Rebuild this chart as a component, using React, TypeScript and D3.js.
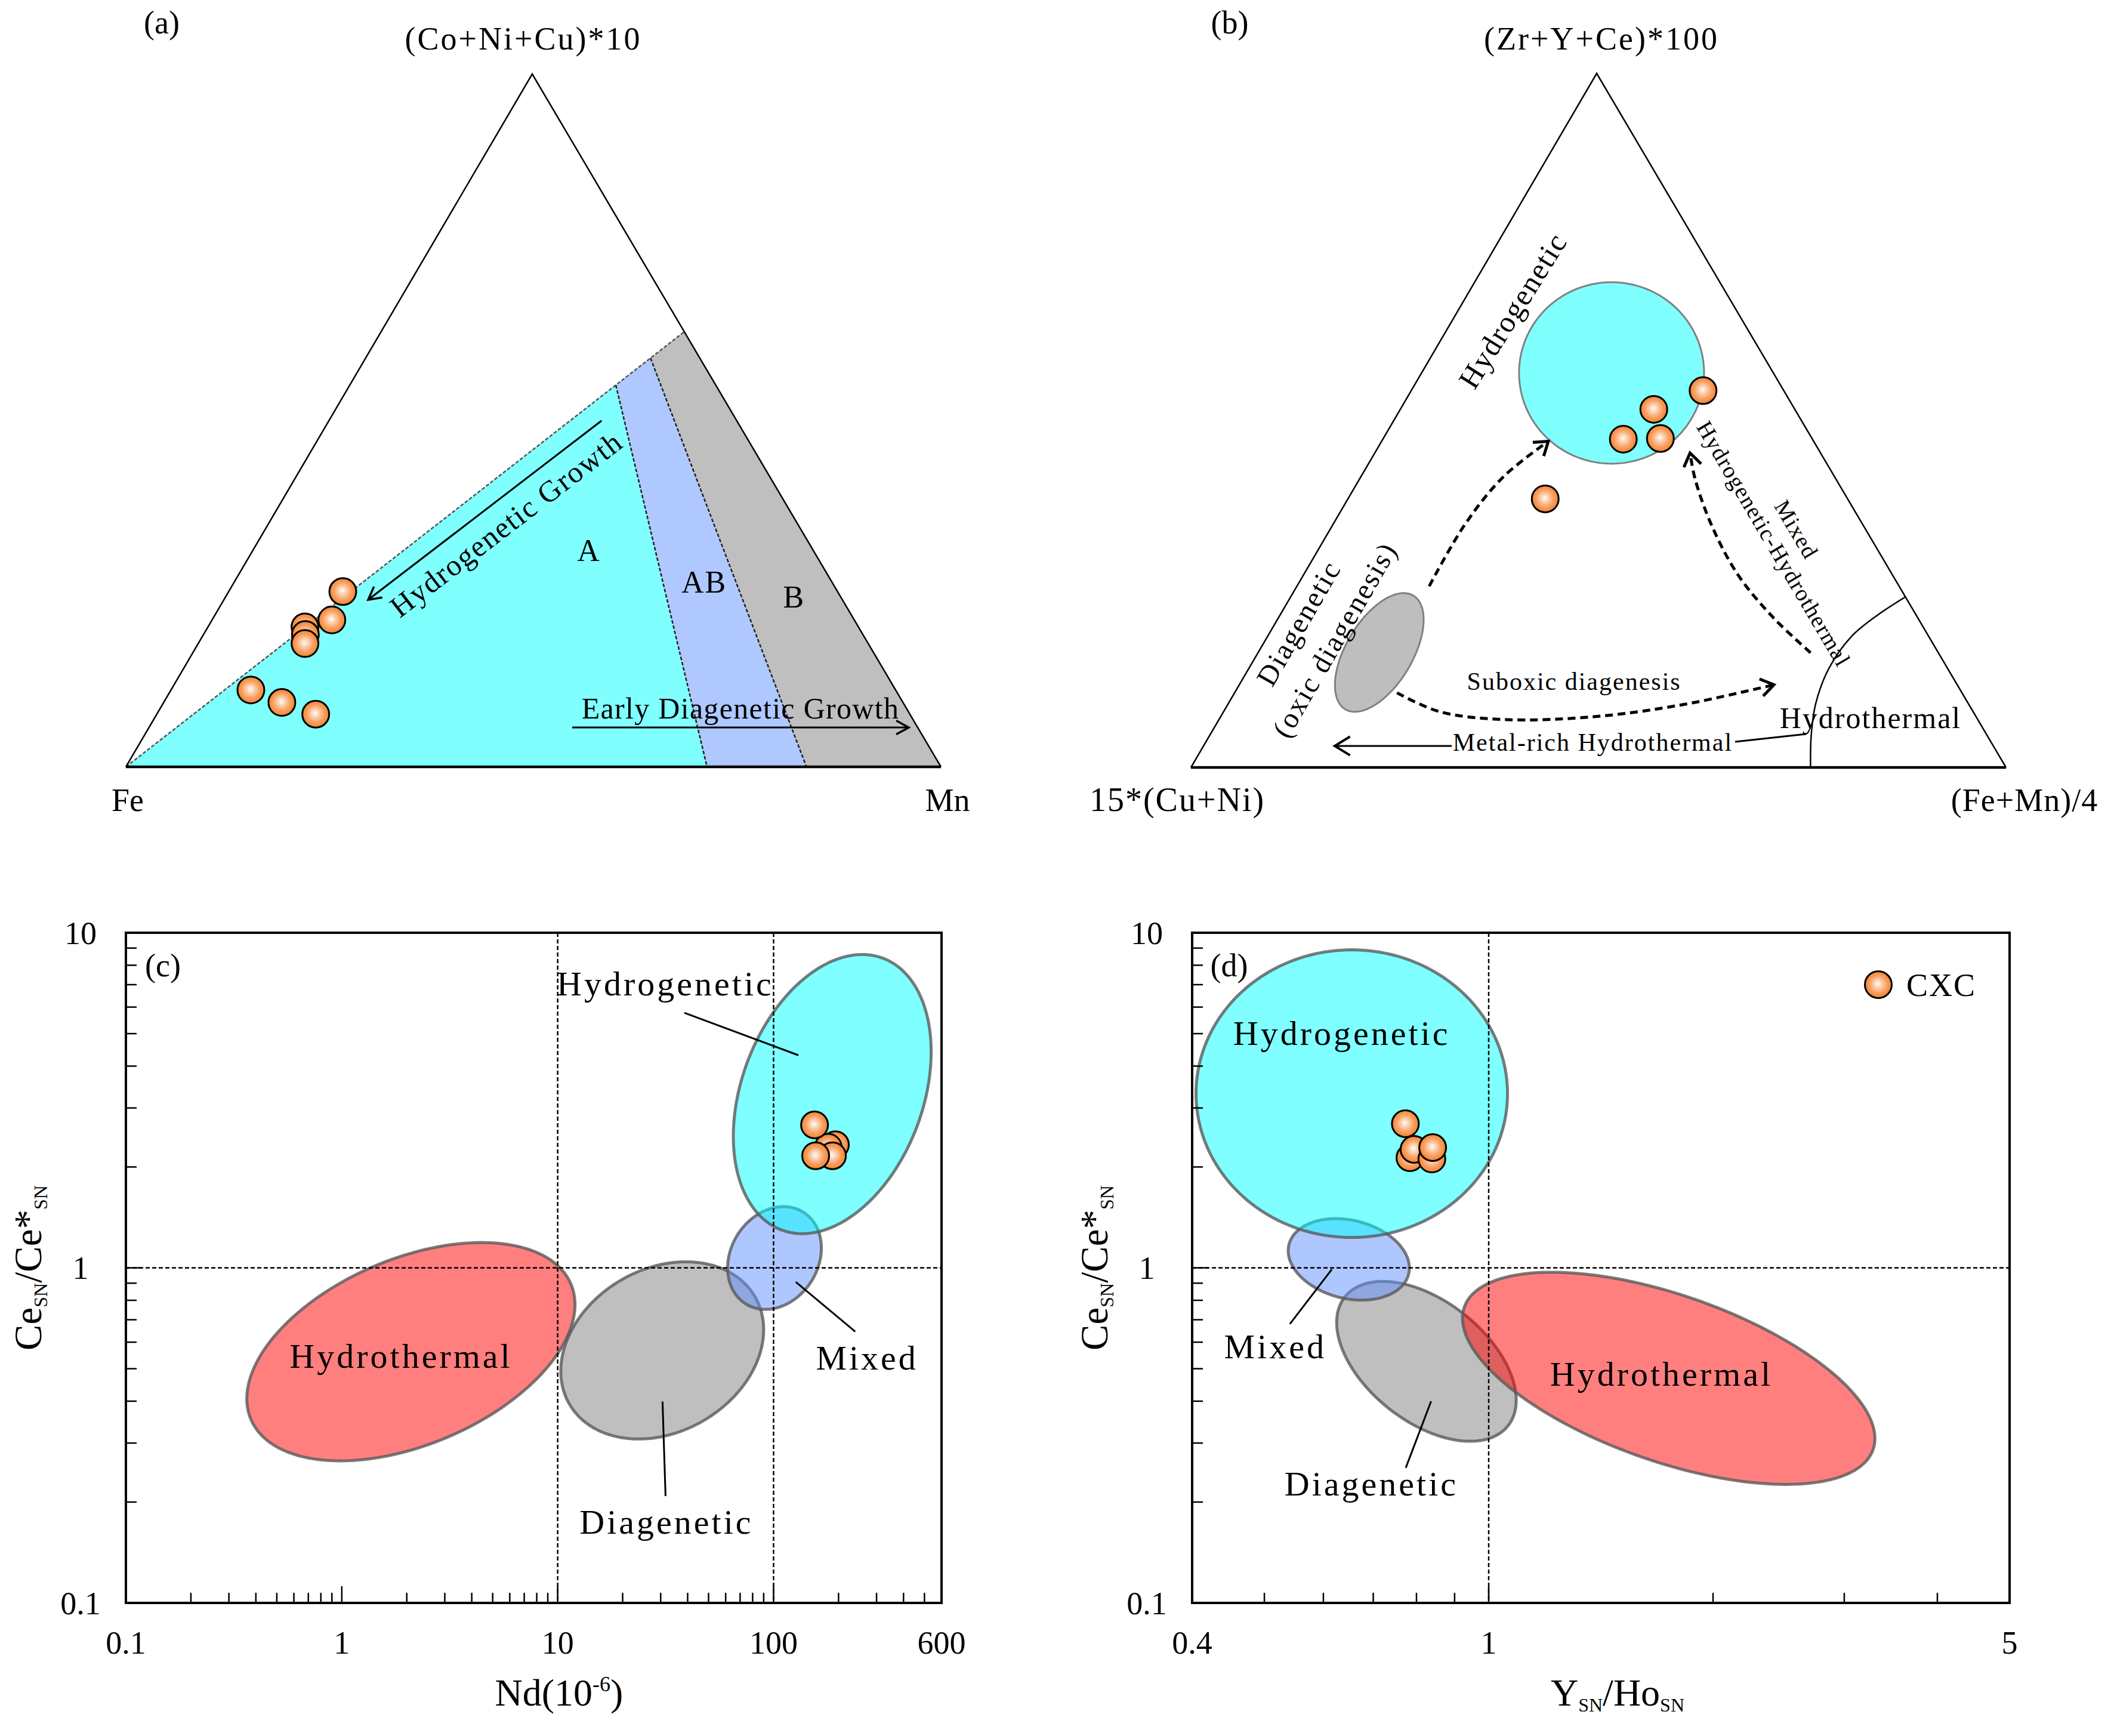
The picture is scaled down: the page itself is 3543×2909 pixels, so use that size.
import React from 'react';
import * as d3 from 'd3';

type Pt = [number, number];

const FONT = '"Liberation Serif", "Times New Roman", Times, serif';

// ================= (a) ternary: Fe – Mn – (Co+Ni+Cu)*10 (fractions) =================
const aFe = [0.607, 0.641, 0.679, 0.684, 0.691, 0.791, 0.762, 0.729];
const aMn = [0.14, 0.147, 0.119, 0.125, 0.131, 0.098, 0.145, 0.195];
const aCoNiCu = [0.253, 0.212, 0.202, 0.191, 0.178, 0.111, 0.093, 0.076];

// field vertices as [Mn, (Co+Ni+Cu)*10]; Fe is the remainder
const aFieldA: Pt[] = [[0, 0], [0.3264, 0.551], [0.713, 0]];
const aFieldAB: Pt[] = [[0.3264, 0.551], [0.3495, 0.59], [0.835, 0], [0.713, 0]];
const aFieldB: Pt[] = [[0.3495, 0.59], [0.372, 0.628], [1, 0], [0.835, 0]];
const aUpperLimit: Pt[] = [[0, 0], [0.372, 0.628]];
const aLimitA_AB: Pt[] = [[0.3264, 0.551], [0.713, 0]];
const aLimitAB_B: Pt[] = [[0.3495, 0.59], [0.835, 0]];
const aHydroArrow: Pt[] = [[0.3345, 0.4996], [0.177, 0.2412]];
const aDiagArrow: Pt[] = [[0.5193, 0.0568], [0.9322, 0.0568]];
const aFieldNames = ['A', 'AB', 'B'];
const aFieldNameAt: Pt[] = [[0.42, 0.2972], [0.584, 0.2515], [0.7052, 0.23]];
const aHydroTextAt: Pt = [0.2915, 0.3506];
const aDiagTextAt: Pt = [0.7192, 0.0698];

// ================= (b) ternary: 15*(Cu+Ni) – (Fe+Mn)/4 – (Zr+Y+Ce)*100 =================
const bCuNi = [0.099, 0.173, 0.232, 0.186, 0.371];
const bFeMn = [0.358, 0.311, 0.295, 0.34, 0.242];
const bZrYCe = [0.543, 0.516, 0.473, 0.474, 0.387];
// fields: centre [(Fe+Mn)/4, (Zr+Y+Ce)*100] + conjugate semi-axis vectors
const bFieldNames = ['Hydrogenetic', 'Diagenetic'];
const bFieldCentre: Pt[] = [[0.2331, 0.5684], [0.1486, 0.1657]];
const bFieldU: Pt[] = [[0.1135, 0], [0.001, 0.0819]];
const bFieldV: Pt[] = [[0.0651, -0.1307], [0.0471, -0.0246]];
const bHydrothermalLimit: Pt[] = [[0.7602, 0], [0.738, 0.0462], [0.7207, 0.0922], [0.7117, 0.1421], [0.7163, 0.1882], [0.7327, 0.2189], [0.7543, 0.2457]];
const bOxicArrow: Pt[] = [[0.1623, 0.2611], [0.1618, 0.3494], [0.1748, 0.4186], [0.2045, 0.47]];
const bSuboxicArrow: Pt[] = [[0.1992, 0.1076], [0.2639, 0.0807], [0.3488, 0.0691], [0.4576, 0.073], [0.5593, 0.0907], [0.6559, 0.1191]];
const bMixedArrow: Pt[] = [[0.678, 0.1652], [0.6082, 0.215], [0.5341, 0.2765], [0.468, 0.3456], [0.4123, 0.4147], [0.3868, 0.4531]];
const bMetalArrow: Pt[] = [[0.3045, 0.031], [0.161, 0.031]];
const bMetalLeader: Pt[] = [[0.6492, 0.037], [0.7308, 0.0482]];

// ================= (c) Nd vs Ce/Ce* =================
const cNd = [193.4, 179.2, 187.4, 156.7, 154.8];
const cCe = [2.33, 2.29, 2.16, 2.16, 2.67];
// fields: centre (data) + conjugate semi-axis vectors in log10 units
const cFieldNames = ['Diagenetic', 'Hydrothermal', 'Mixed', 'Hydrogenetic'];
const cFieldCentre: Pt[] = [[30.5, 0.567], [2.09, 0.562], [101, 1.07], [187, 3.3]];
const cFieldU: Pt[] = [[0.4304, 0.1598], [0.7413, 0.2018], [0.134, 0.1366], [0.2341, 0.4057]];
const cFieldV: Pt[] = [[0.1885, -0.2107], [0.1678, -0.2557], [0.1708, -0.0696], [0.3939, -0.0944]];
const cLabelNames = ['Hydrogenetic', 'Mixed', 'Diagenetic', 'Hydrothermal'];
const cLabelAt: Pt[] = [[31.5, 6.5], [271, 0.497], [31.9, 0.1606], [1.88, 0.504]];
const cLeaders: Pt[][] = [[[38.6, 5.77], [130.3, 4.31]], [[126.7, 0.908], [239, 0.645]], [[30.6, 0.399], [31.6, 0.2083]]];
const cXTickValues = [0.1, 1, 10, 100, 600];
const cXTickLabels = ['0.1', '1', '10', '100', '600'];
const cRefX = [10, 100];

// ================= (d) Y/Ho vs Ce/Ce* =================
const dYHo = [0.784, 0.794, 0.839, 0.841, 0.773];
const dCe = [2.131, 2.257, 2.113, 2.285, 2.692];
const dFieldNames = ['Diagenetic', 'Hydrothermal', 'Mixed', 'Hydrogenetic'];
const dFieldCentre: Pt[] = [[0.825, 0.526], [1.744, 0.468], [0.649, 1.06], [0.655, 3.31]];
const dFieldU: Pt[] = [[0.1095, -0.1923], [0.2743, -0.2125], [0.0803, -0.0438], [0.209, 0]];
const dFieldV: Pt[] = [[-0.0502, -0.1412], [-0.0367, -0.2346], [-0.0125, -0.1134], [0, -0.4292]];
const dLabelNames = ['Hydrogenetic', 'Mixed', 'Diagenetic', 'Hydrothermal'];
const dLabelAt: Pt[] = [[0.635, 4.63], [0.517, 0.537], [0.696, 0.2092], [1.705, 0.4457]];
const dLeaders: Pt[][] = [[[0.616, 0.99], [0.541, 0.68]], [[0.837, 0.4], [0.774, 0.253]]];
const dXTickValues = [0.4, 1, 5];
const dXTickLabels = ['0.4', '1', '5'];
const dRefX = [1];

const yTickValues = [0.1, 1, 10];
const yTickLabels = ['0.1', '1', '10'];
const legendName = 'CXC';

const FIELD_FILL: Record<string, string> = {
  Hydrogenetic: '#00ffff',
  Mixed: '#6090ff',
  Diagenetic: '#7f7f7f',
  Hydrothermal: '#ff0000',
};

// ---------------- helpers ----------------
function makeTern(L: Pt, R: Pt, T: Pt) {
  return (p: Pt): Pt => {
    const r = p[0], t = p[1], l = 1 - r - t;
    return [L[0] * l + R[0] * r + T[0] * t, L[1] * l + R[1] * r + T[1] * t];
  };
}

function chevron(tip: Pt, from: Pt, len: number, half: number) {
  const ang = Math.atan2(tip[1] - from[1], tip[0] - from[0]);
  const a1 = ang + Math.PI - half;
  const a2 = ang + Math.PI + half;
  return `M${tip[0] + len * Math.cos(a1)},${tip[1] + len * Math.sin(a1)}L${tip[0]},${tip[1]}L${tip[0] + len * Math.cos(a2)},${tip[1] + len * Math.sin(a2)}`;
}

const closed = d3.line<Pt>().curve(d3.curveLinearClosed);
const straight = d3.line<Pt>();
const smooth = d3.line<Pt>().curve(d3.curveCatmullRom.alpha(0.5));

function ternEllipse(c: Pt, u: Pt, v: Pt, proj: (p: Pt) => Pt) {
  const pts: Pt[] = d3.range(180).map((i) => {
    const t = (2 * Math.PI * i) / 180;
    return proj([c[0] + u[0] * Math.cos(t) + v[0] * Math.sin(t), c[1] + u[1] * Math.cos(t) + v[1] * Math.sin(t)]);
  });
  return closed(pts) as string;
}

function logEllipse(c: Pt, u: Pt, v: Pt, xs: any, ys: any) {
  const lx0 = Math.log10(c[0]);
  const ly0 = Math.log10(c[1]);
  const pts: Pt[] = d3.range(180).map((i) => {
    const t = (2 * Math.PI * i) / 180;
    const lx = lx0 + u[0] * Math.cos(t) + v[0] * Math.sin(t);
    const ly = ly0 + u[1] * Math.cos(t) + v[1] * Math.sin(t);
    return [xs(Math.pow(10, lx)), ys(Math.pow(10, ly))];
  });
  return closed(pts) as string;
}

function logMinor(lo: number, hi: number) {
  const out: { v: number; major: boolean }[] = [];
  for (let e = Math.floor(Math.log10(lo)); e <= Math.ceil(Math.log10(hi)); e++) {
    for (let m = 1; m < 10; m++) {
      const v = m * Math.pow(10, e);
      if (v > lo * 1.0001 && v < hi * 0.9999) out.push({ v, major: m === 1 });
    }
  }
  return out;
}

const Dot = ({ p }: { p: Pt }) => (
  <circle cx={p[0]} cy={p[1]} r={22.5} fill="url(#ptGrad)" stroke="#000" strokeWidth={3} />
);

function LogPanel(props: any) {
  const { xs, ys, xTickValues, xTickLabels, refX, fieldNames, fieldCentre, fieldU, fieldV, labelNames, labelAt, leaders, px, py, tag, xTitle, xTitleX, legend } = props;
  const [x0, x1] = xs.range();
  const [y1, y0] = ys.range();
  const xt = logMinor(xs.domain()[0], xs.domain()[1]);
  const yt = logMinor(ys.domain()[0], ys.domain()[1]);
  return (
    <g fontFamily={FONT}>
      {fieldNames.map((n: string, i: number) => (
        <path key={n} d={logEllipse(fieldCentre[i], fieldU[i], fieldV[i], xs, ys)} fill={FIELD_FILL[n]} fillOpacity={0.5} stroke="#5a5a5a" strokeOpacity={0.8} strokeWidth={5} />
      ))}
      {refX.map((v: number) => (
        <line key={v} x1={xs(v)} x2={xs(v)} y1={y0} y2={y1} stroke="#000" strokeWidth={2.5} strokeDasharray="7,4" />
      ))}
      <line x1={x0} x2={x1} y1={ys(1)} y2={ys(1)} stroke="#000" strokeWidth={2.5} strokeDasharray="7,4" />
      {leaders.map((l: Pt[], i: number) => (
        <path key={i} d={straight(l.map((p) => [xs(p[0]), ys(p[1])] as Pt)) as string} stroke="#000" strokeWidth={3} fill="none" />
      ))}
      {labelNames.map((n: string, i: number) => (
        <text key={i} x={xs(labelAt[i][0])} y={ys(labelAt[i][1])} textAnchor="middle" fontSize={58} style={{ letterSpacing: '4px' }}>{n}</text>
      ))}
      {px.map((v: number, i: number) => (
        <Dot key={i} p={[xs(v), ys(py[i])]} />
      ))}
      {xt.map((t: any, i: number) => (
        <line key={'xt' + i} x1={xs(t.v)} x2={xs(t.v)} y1={y1} y2={y1 - (t.major ? 28 : 17)} stroke="#000" strokeWidth={2.5} />
      ))}
      {yt.map((t: any, i: number) => (
        <line key={'yt' + i} x1={x0} x2={x0 + (t.major ? 27 : 18)} y1={ys(t.v)} y2={ys(t.v)} stroke="#000" strokeWidth={2.5} />
      ))}
      <rect x={x0} y={y0} width={x1 - x0} height={y1 - y0} fill="none" stroke="#000" strokeWidth={4} />
      {xTickValues.map((v: number, i: number) => (
        <text key={'xl' + i} x={xs(v)} y={y1 + 85} textAnchor="middle" fontSize={54}>{xTickLabels[i]}</text>
      ))}
      {yTickValues.map((v: number, i: number) => (
        <text key={'yl' + i} x={x0 - 76} y={ys(v)} dy="0.35em" textAnchor="middle" fontSize={54}>{yTickLabels[i]}</text>
      ))}
      <text x={x0 + 62} y={y0 + 73} textAnchor="middle" fontSize={54}>{tag}</text>
      <text transform={`translate(${x0 - 142},${(y0 + y1) / 2}) rotate(-90)`} textAnchor="middle" fontSize={65}>
        Ce<tspan fontSize={32} dy={10}>SN</tspan>
        <tspan dy={-10}>/Ce*</tspan>
        <tspan fontSize={32} dy={10}>SN</tspan>
      </text>
      <text x={xTitleX} y={y1 + 172} textAnchor="middle" fontSize={64}>{xTitle}</text>
      {legend}
    </g>
  );
}

export default function App() {
  const projA = makeTern([211, 1285], [1577, 1285], [892, 124]);
  const projB = makeTern([1996, 1286], [3362, 1286], [2676, 123]);

  const xC = d3.scaleLog().domain([0.1, 600]).range([211, 1578]);
  const yC = d3.scaleLog().domain([0.1, 10]).range([2686, 1563]);
  const xD = d3.scaleLog().domain([0.4, 5]).range([1998, 3368]);
  const yD = d3.scaleLog().domain([0.1, 10]).range([2686, 1563]);

  const poly = (pts: Pt[], proj: (p: Pt) => Pt) => closed(pts.map(proj)) as string;

  // (a) geometry
  const aFeV = projA([0, 0]);
  const aMnV = projA([1, 0]);
  const aTopV = projA([0, 1]);
  const hArrow = aHydroArrow.map(projA);
  const hAngle = (Math.atan2(hArrow[0][1] - hArrow[1][1], hArrow[0][0] - hArrow[1][0]) * 180) / Math.PI;
  const hText = projA(aHydroTextAt);
  const dArrow = aDiagArrow.map(projA);
  const dText = projA(aDiagTextAt);

  // (b) geometry
  const bLV = projB([0, 0]);
  const bRV = projB([1, 0]);
  const bTV = projB([0, 1]);
  const dashArrows = [bOxicArrow, bSuboxicArrow, bMixedArrow].map((a) => a.map(projB));
  const metal = bMetalArrow.map(projB);

  const bLabel = (p: Pt, text: string, rot: number, size: number, ls: number, key: string) => {
    const q = projB(p);
    return (
      <text key={key} transform={`translate(${q[0]},${q[1]}) rotate(${rot})`} dy="0.35em" textAnchor="middle" fontSize={size} style={{ letterSpacing: ls + 'px' }}>{text}</text>
    );
  };

  return (
    <svg width={3543} height={2909} style={{ position: 'absolute', left: 0, top: 0, display: 'block' }} fontFamily={FONT}>
      <defs>
        <radialGradient id="ptGrad" cx="50%" cy="50%" r="50%" fx="48%" fy="46%">
          <stop offset="0%" stopColor="#ffffff" />
          <stop offset="25%" stopColor="#fdd6b8" />
          <stop offset="65%" stopColor="#f9a062" />
          <stop offset="100%" stopColor="#f2822e" />
        </radialGradient>
      </defs>
      <rect x={0} y={0} width={3543} height={2909} fill="#fff" />

      {/* ================= (a) ================= */}
      <g>
        <path d={poly(aFieldA, projA)} fill="#80ffff" />
        <path d={poly(aFieldAB, projA)} fill="#afc8ff" />
        <path d={poly(aFieldB, projA)} fill="#bfbfbf" />
        {[aUpperLimit, aLimitA_AB, aLimitAB_B].map((l, i) => (
          <path key={i} d={straight(l.map(projA)) as string} stroke={i === 0 ? '#555' : '#222'} strokeWidth={2.5} strokeDasharray="6,3" fill="none" />
        ))}
        <path d={`M${aFeV[0]},${aFeV[1]}L${aTopV[0]},${aTopV[1]}L${aMnV[0]},${aMnV[1]}`} stroke="#000" strokeWidth={2.5} fill="none" />
        <line x1={aFeV[0]} y1={aFeV[1]} x2={aMnV[0]} y2={aMnV[1]} stroke="#000" strokeWidth={4.5} />
        {aFe.map((f, i) => (
          <Dot key={i} p={projA([aMn[i] / (f + aMn[i] + aCoNiCu[i]), aCoNiCu[i] / (f + aMn[i] + aCoNiCu[i])])} />
        ))}
        <path d={straight(hArrow) as string} stroke="#000" strokeWidth={3} fill="none" />
        <path d={chevron(hArrow[1], hArrow[0], 24, 0.5)} stroke="#000" strokeWidth={3.5} fill="none" />
        <text transform={`translate(${hText[0]},${hText[1]}) rotate(${hAngle})`} dy="0.35em" textAnchor="middle" fontSize={50} style={{ letterSpacing: '2px' }}>Hydrogenetic Growth</text>
        <path d={straight(dArrow) as string} stroke="#000" strokeWidth={3} fill="none" />
        <path d={chevron(dArrow[1], dArrow[0], 24, 0.5)} stroke="#000" strokeWidth={3.5} fill="none" />
        <text x={dText[0]} y={dText[1]} textAnchor="middle" fontSize={50} style={{ letterSpacing: '1.3px' }}>Early Diagenetic Growth</text>
        {aFieldNames.map((n, i) => {
          const q = projA(aFieldNameAt[i]);
          return <text key={n} x={q[0]} y={q[1]} textAnchor="middle" fontSize={52} style={{ letterSpacing: '2px' }}>{n}</text>;
        })}
        <text x={aFeV[0] + 3} y={1359} textAnchor="middle" fontSize={54}>Fe</text>
        <text x={aMnV[0] + 11} y={1359} textAnchor="middle" fontSize={54}>Mn</text>
        <text x={aTopV[0] - 15} y={83} textAnchor="middle" fontSize={54} style={{ letterSpacing: '3px' }}>(Co+Ni+Cu)*10</text>
        <text x={271} y={56} textAnchor="middle" fontSize={54}>(a)</text>
      </g>

      {/* ================= (b) ================= */}
      <g>
        {bFieldNames.map((n, i) => (
          <path key={n} d={ternEllipse(bFieldCentre[i], bFieldU[i], bFieldV[i], projB)} fill={i === 0 ? '#80ffff' : '#bebebe'} stroke="#808080" strokeWidth={3} />
        ))}
        <path d={`M${bLV[0]},${bLV[1]}L${bTV[0]},${bTV[1]}L${bRV[0]},${bRV[1]}`} stroke="#000" strokeWidth={2.5} fill="none" />
        <line x1={bLV[0]} y1={bLV[1]} x2={bRV[0]} y2={bRV[1]} stroke="#000" strokeWidth={4.5} />
        <path d={smooth(bHydrothermalLimit.map(projB)) as string} stroke="#000" strokeWidth={2.5} fill="none" />
        {dashArrows.map((a, i) => (
          <g key={i}>
            <path d={smooth(a) as string} stroke="#000" strokeWidth={5} strokeDasharray="13,8" fill="none" />
            <path d={chevron(a[a.length - 1], a[a.length - 2], 26, 0.6)} stroke="#000" strokeWidth={5} fill="none" />
          </g>
        ))}
        <path d={straight(metal) as string} stroke="#000" strokeWidth={3} fill="none" />
        <path d={chevron(metal[1], metal[0], 30, 0.55)} stroke="#000" strokeWidth={4} fill="none" />
        <path d={straight(bMetalLeader.map(projB)) as string} stroke="#000" strokeWidth={3} fill="none" />
        {bCuNi.map((v, i) => {
          const s = v + bFeMn[i] + bZrYCe[i];
          return <Dot key={i} p={projB([bFeMn[i] / s, bZrYCe[i] / s])} />;
        })}
        {bLabel([0.0667, 0.6586], 'Hydrogenetic', -58, 50, 2, 'l1')}
        {bLabel([0.0282, 0.2081], 'Diagenetic', -60, 48, 2.5, 'l2')}
        {bLabel([0.0843, 0.1844], '(oxic diagenesis)', -60, 48, 2.5, 'l3')}
        {bLabel([0.5722, 0.3431], 'Mixed', 59.5, 38, 1.5, 'l4')}
        {bLabel([0.5547, 0.3224], 'Hydrogenetic-Hydrothermal', 59.5, 38, 1.5, 'l5')}
        {(() => {
          const q1 = projB([0.4144, 0.1118]);
          const q2 = projB([0.8056, 0.0567]);
          const q3 = projB([0.481, 0.0241]);
          return (
            <>
              <text x={q1[0]} y={q1[1]} textAnchor="middle" fontSize={42} style={{ letterSpacing: '2px' }}>Suboxic diagenesis</text>
              <text x={q2[0]} y={q2[1]} textAnchor="middle" fontSize={50} style={{ letterSpacing: '2px' }}>Hydrothermal</text>
              <text x={q3[0]} y={q3[1]} textAnchor="middle" fontSize={42} style={{ letterSpacing: '2px' }}>Metal-rich Hydrothermal</text>
            </>
          );
        })()}
        <text x={bLV[0] - 23} y={1359} textAnchor="middle" fontSize={56} style={{ letterSpacing: '2px' }}>15*(Cu+Ni)</text>
        <text x={bRV[0] + 31} y={1359} textAnchor="middle" fontSize={54} style={{ letterSpacing: '1px' }}>(Fe+Mn)/4</text>
        <text x={bTV[0] + 8} y={83} textAnchor="middle" fontSize={54} style={{ letterSpacing: '3px' }}>(Zr+Y+Ce)*100</text>
        <text x={2061} y={56} textAnchor="middle" fontSize={54}>(b)</text>
      </g>

      {/* ================= (c) ================= */}
      <LogPanel
        xs={xC}
        ys={yC}
        xTickValues={cXTickValues}
        xTickLabels={cXTickLabels}
        refX={cRefX}
        fieldNames={cFieldNames}
        fieldCentre={cFieldCentre}
        fieldU={cFieldU}
        fieldV={cFieldV}
        labelNames={cLabelNames}
        labelAt={cLabelAt}
        leaders={cLeaders}
        px={cNd}
        py={cCe}
        tag="(c)"
        xTitleX={937}
        xTitle={
          <>
            Nd(10<tspan fontSize={36} dy={-24}>-6</tspan>
            <tspan dy={24}>)</tspan>
          </>
        }
      />

      {/* ================= (d) ================= */}
      <LogPanel
        xs={xD}
        ys={yD}
        xTickValues={dXTickValues}
        xTickLabels={dXTickLabels}
        refX={dRefX}
        fieldNames={dFieldNames}
        fieldCentre={dFieldCentre}
        fieldU={dFieldU}
        fieldV={dFieldV}
        labelNames={dLabelNames}
        labelAt={dLabelAt}
        leaders={dLeaders}
        px={dYHo}
        py={dCe}
        tag="(d)"
        xTitleX={2711}
        xTitle={
          <>
            Y<tspan fontSize={32} dy={10}>SN</tspan>
            <tspan dy={-10}>/Ho</tspan>
            <tspan fontSize={32} dy={10}>SN</tspan>
          </>
        }
        legend={
          <g>
            <Dot p={[3148, 1650]} />
            <text x={3195} y={1669} fontSize={54} style={{ letterSpacing: '2px' }}>{legendName}</text>
          </g>
        }
      />
    </svg>
  );
}
